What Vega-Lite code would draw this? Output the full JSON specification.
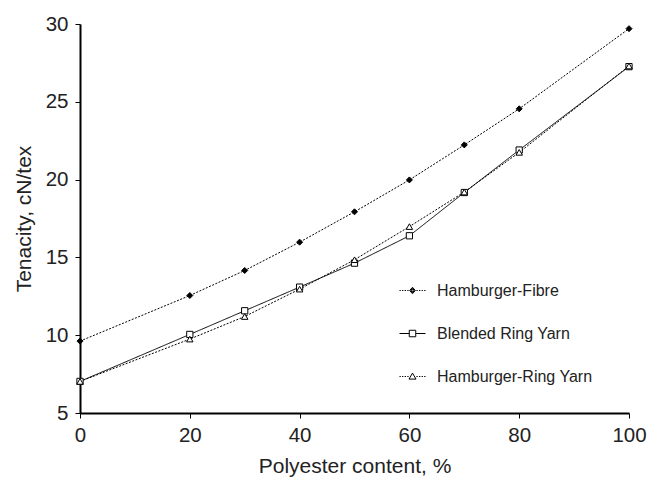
{
  "$schema": "https://vega.github.io/schema/vega-lite/v6.json",
  "width": 549,
  "height": 389,
  "autosize": {"type": "none"},
  "padding": {"left": 80, "top": 24, "right": 22, "bottom": 66},
  "background": "white",
  "config": {
    "view": {"stroke": null},
    "font": "Liberation Sans",
    "axis": {
      "grid": false,
      "domainColor": "black",
      "domainWidth": 2,
      "tickColor": "black",
      "tickWidth": 1,
      "tickSize": 5,
      "labelFontSize": 20.5,
      "labelColor": "#222",
      "titleFontSize": 21,
      "titleFontWeight": "normal",
      "titleColor": "#222",
      "labelFlush": false
    },
    "legend": {
      "labelFont": "Liberation Sans",
      "labelFontSize": 16,
      "labelColor": "#222"
    }
  },
  "data": {
    "values": [
      {"series": "Hamburger-Fibre", "pc": 0, "t": 9.62},
      {"series": "Hamburger-Fibre", "pc": 20, "t": 12.55},
      {"series": "Hamburger-Fibre", "pc": 30, "t": 14.16},
      {"series": "Hamburger-Fibre", "pc": 40, "t": 15.98},
      {"series": "Hamburger-Fibre", "pc": 50, "t": 17.93},
      {"series": "Hamburger-Fibre", "pc": 60, "t": 19.98},
      {"series": "Hamburger-Fibre", "pc": 70, "t": 22.23},
      {"series": "Hamburger-Fibre", "pc": 80, "t": 24.55},
      {"series": "Hamburger-Fibre", "pc": 100, "t": 29.7},
      {"series": "Blended Ring Yarn", "pc": 0, "t": 7.03},
      {"series": "Blended Ring Yarn", "pc": 20, "t": 10.05},
      {"series": "Blended Ring Yarn", "pc": 30, "t": 11.57},
      {"series": "Blended Ring Yarn", "pc": 40, "t": 13.09},
      {"series": "Blended Ring Yarn", "pc": 50, "t": 14.63},
      {"series": "Blended Ring Yarn", "pc": 60, "t": 16.39},
      {"series": "Blended Ring Yarn", "pc": 70, "t": 19.17},
      {"series": "Blended Ring Yarn", "pc": 80, "t": 21.9},
      {"series": "Blended Ring Yarn", "pc": 100, "t": 27.26},
      {"series": "Hamburger-Ring Yarn", "pc": 0, "t": 7.03},
      {"series": "Hamburger-Ring Yarn", "pc": 20, "t": 9.75},
      {"series": "Hamburger-Ring Yarn", "pc": 30, "t": 11.2},
      {"series": "Hamburger-Ring Yarn", "pc": 40, "t": 12.96},
      {"series": "Hamburger-Ring Yarn", "pc": 50, "t": 14.85},
      {"series": "Hamburger-Ring Yarn", "pc": 60, "t": 16.98},
      {"series": "Hamburger-Ring Yarn", "pc": 70, "t": 19.2},
      {"series": "Hamburger-Ring Yarn", "pc": 80, "t": 21.75},
      {"series": "Hamburger-Ring Yarn", "pc": 100, "t": 27.3}
    ]
  },
  "encoding": {
    "x": {
      "field": "pc", "type": "quantitative",
      "scale": {"domain": [0, 100], "nice": false},
      "axis": {"values": [0, 20, 40, 60, 80, 100], "title": "Polyester content, %", "labelPadding": 7, "titlePadding": 10}
    },
    "y": {
      "field": "t", "type": "quantitative",
      "scale": {"domain": [5, 30], "nice": false, "zero": false},
      "axis": {"values": [5, 10, 15, 20, 25, 30], "title": "Tenacity, cN/tex", "labelPadding": 7, "titlePadding": 11}
    }
  },
  "layer": [
    {
      "mark": {"type": "line", "color": "black", "strokeWidth": 1},
      "encoding": {
        "detail": {"field": "series"},
        "strokeDash": {
          "field": "series", "type": "nominal",
          "scale": {"domain": ["Hamburger-Fibre", "Blended Ring Yarn", "Hamburger-Ring Yarn"], "range": [[2, 1.5], [1, 0], [2, 1.5]]},
          "legend": null
        }
      }
    },
    {
      "mark": {"type": "point", "stroke": "black", "strokeWidth": 1, "opacity": 1},
      "encoding": {
        "shape": {
          "field": "series", "type": "nominal",
          "scale": {"domain": ["Hamburger-Fibre", "Blended Ring Yarn", "Hamburger-Ring Yarn"], "range": ["diamond", "square", "triangle-up"]},
          "legend": null
        },
        "fill": {
          "field": "series", "type": "nominal",
          "scale": {"domain": ["Hamburger-Fibre", "Blended Ring Yarn", "Hamburger-Ring Yarn"], "range": ["black", "white", "white"]},
          "legend": null
        },
        "size": {
          "field": "series", "type": "nominal",
          "scale": {"domain": ["Hamburger-Fibre", "Blended Ring Yarn", "Hamburger-Ring Yarn"], "range": [36, 42, 49]},
          "legend": null
        }
      }
    },
    {
      "mark": {"type": "point", "color": "black", "opacity": 0, "strokeWidth": 1},
      "encoding": {
        "shape": {
          "field": "series", "type": "nominal",
          "scale": {
            "domain": ["Hamburger-Fibre", "Blended Ring Yarn", "Hamburger-Ring Yarn"],
            "range": [
              "M-1,0L-0.9,0M-0.8,0L-0.7,0M-0.6,0L-0.5,0M-0.4,0L-0.3,0M0,-0.25L0.22,0L0,0.25L-0.22,0ZM0,-0.17L0.14,0L0,0.17L-0.14,0ZM0,-0.09L0.06,0L0,0.09L-0.06,0ZM0.3,0L0.4,0M0.5,0L0.6,0M0.7,0L0.8,0M0.9,0L1,0",
              "M-1,0L-0.25,0M0.25,0L1,0M-0.25,-0.25L0.25,-0.25L0.25,0.25L-0.25,0.25Z",
              "M-1,0L-0.9,0M-0.8,0L-0.7,0M-0.6,0L-0.5,0M-0.4,0L-0.3,0M0,-0.26L0.27,0.2L-0.27,0.2ZM0.3,0L0.4,0M0.5,0L0.6,0M0.7,0L0.8,0M0.9,0L1,0"
            ]
          },
          "legend": {
            "title": null,
            "orient": "none",
            "legendX": 319,
            "legendY": 253,
            "padding": 0,
            "symbolSize": 676,
            "symbolStrokeWidth": 1,
            "symbolStrokeColor": "black",
            "symbolFillColor": "transparent",
            "labelOffset": 11,
            "rowPadding": 21
          }
        }
      }
    }
  ],
  "resolve": {"scale": {"shape": "independent"}}
}
